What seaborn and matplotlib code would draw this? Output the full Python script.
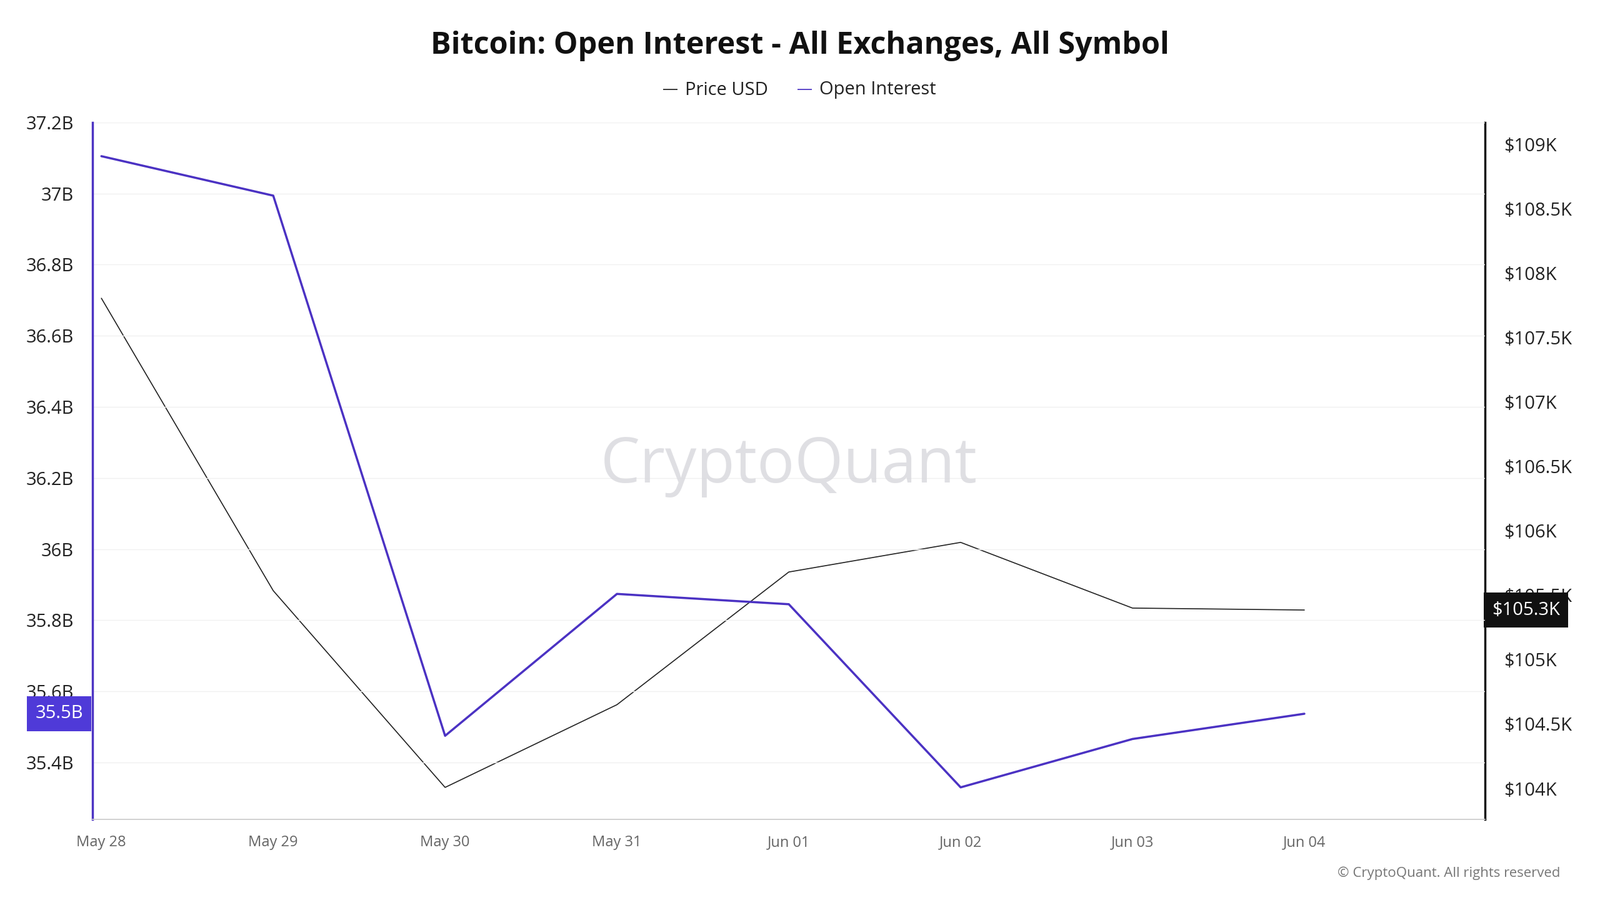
import matplotlib.pyplot as plt
import numpy as np
import pandas as pd
import seaborn as sns

dates = ["May 28", "May 29", "May 30", "May 31", "Jun 01", "Jun 02", "Jun 03", "Jun 04"]
open_interest_b = [37.105, 36.994, 35.475, 35.874, 35.845, 35.330, 35.466, 35.537]
price_k = [107.805, 105.535, 104.008, 104.650, 105.680, 105.910, 105.400, 105.385]

oi_ticks = [35.4, 35.6, 35.8, 36.0, 36.2, 36.4, 36.6, 36.8, 37.0, 37.2]
price_ticks = [104, 104.5, 105, 105.5, 106, 106.5, 107, 107.5, 108, 108.5, 109]

PURPLE = "#4b32c3"
df = pd.DataFrame({"day": np.arange(len(dates)), "oi": open_interest_b, "price": price_k})

sns.set_theme(style="white", font="Open Sans")
fig = plt.figure(figsize=(25.6, 14.4), dpi=100)
ax = fig.add_axes([0.058, 0.0896, 0.870, 0.7744])
ax2 = ax.twinx()

sns.lineplot(data=df, x="day", y="price", ax=ax2, color="#222222", linewidth=1.2)
sns.lineplot(data=df, x="day", y="oi", ax=ax, color=PURPLE, linewidth=2.5)
ax.set_zorder(ax2.get_zorder() + 1)
ax.patch.set_visible(False)

ax.set_xlim(-0.05, 8.05)
ax.set_ylim(35.24, 37.2)
ax2.set_ylim(103.76, 109.17)

ax.set_xticks(range(len(dates)))
ax.set_xticklabels(dates, fontsize=17, color="#666666")
ax.set_yticks(oi_ticks)
ax.set_yticklabels([f"{v:g}B" for v in oi_ticks], fontsize=21, color="#222222")
ax2.set_yticks(price_ticks)
ax2.set_yticklabels([f"${v:g}K" for v in price_ticks], fontsize=21, color="#222222")
ax.tick_params(axis="y", length=0, pad=22)
ax2.tick_params(axis="y", length=0, pad=22)
ax.tick_params(axis="x", length=6, color="#cccccc", pad=12)
ax.set_xlabel(""); ax.set_ylabel(""); ax2.set_ylabel(""); ax2.set_xlabel("")

ax.grid(axis="y", color="#f0f0f0", linewidth=1)
for s in ["top", "right"]:
    ax.spines[s].set_visible(False)
ax.spines["left"].set_color(PURPLE); ax.spines["left"].set_linewidth(2.5)
ax.spines["bottom"].set_color("#cccccc")
for s in ["top", "left", "bottom"]:
    ax2.spines[s].set_visible(False)
ax2.spines["right"].set_color("#111111"); ax2.spines["right"].set_linewidth(2.5)

# last-value badges
ax.text(-0.007, open_interest_b[-1], "35.5B", transform=ax.get_yaxis_transform(),
        ha="right", va="center", fontsize=21, color="white", zorder=10,
        bbox=dict(boxstyle="square,pad=0.45", fc="#4f3ad8", ec="none"))
ax2.text(1.005, price_k[-1], "$105.3K", transform=ax2.get_yaxis_transform(),
         ha="left", va="center", fontsize=21, color="white", zorder=10,
         bbox=dict(boxstyle="square,pad=0.45", fc="#111111", ec="none"))

fig.text(0.5, 0.949, "Bitcoin: Open Interest - All Exchanges, All Symbol", ha="center",
         va="center", fontsize=35, fontweight="bold", color="#111111")
fig.text(0.419, 0.9, "—", ha="center", va="center", fontsize=18, color="#222222")
fig.text(0.428, 0.9, "Price USD", ha="left", va="center", fontsize=21, color="#222222")
fig.text(0.503, 0.9, "—", ha="center", va="center", fontsize=18, color=PURPLE)
fig.text(0.512, 0.9, "Open Interest", ha="left", va="center", fontsize=21, color="#222222")
fig.text(0.493, 0.482, "CryptoQuant", ha="center", va="center", fontsize=72,
         color="#d8d8dd", alpha=0.8)
fig.text(0.975, 0.03, "© CryptoQuant. All rights reserved", ha="right", va="center",
         fontsize=16, color="#777777")

fig.savefig("out.png", dpi=100)
